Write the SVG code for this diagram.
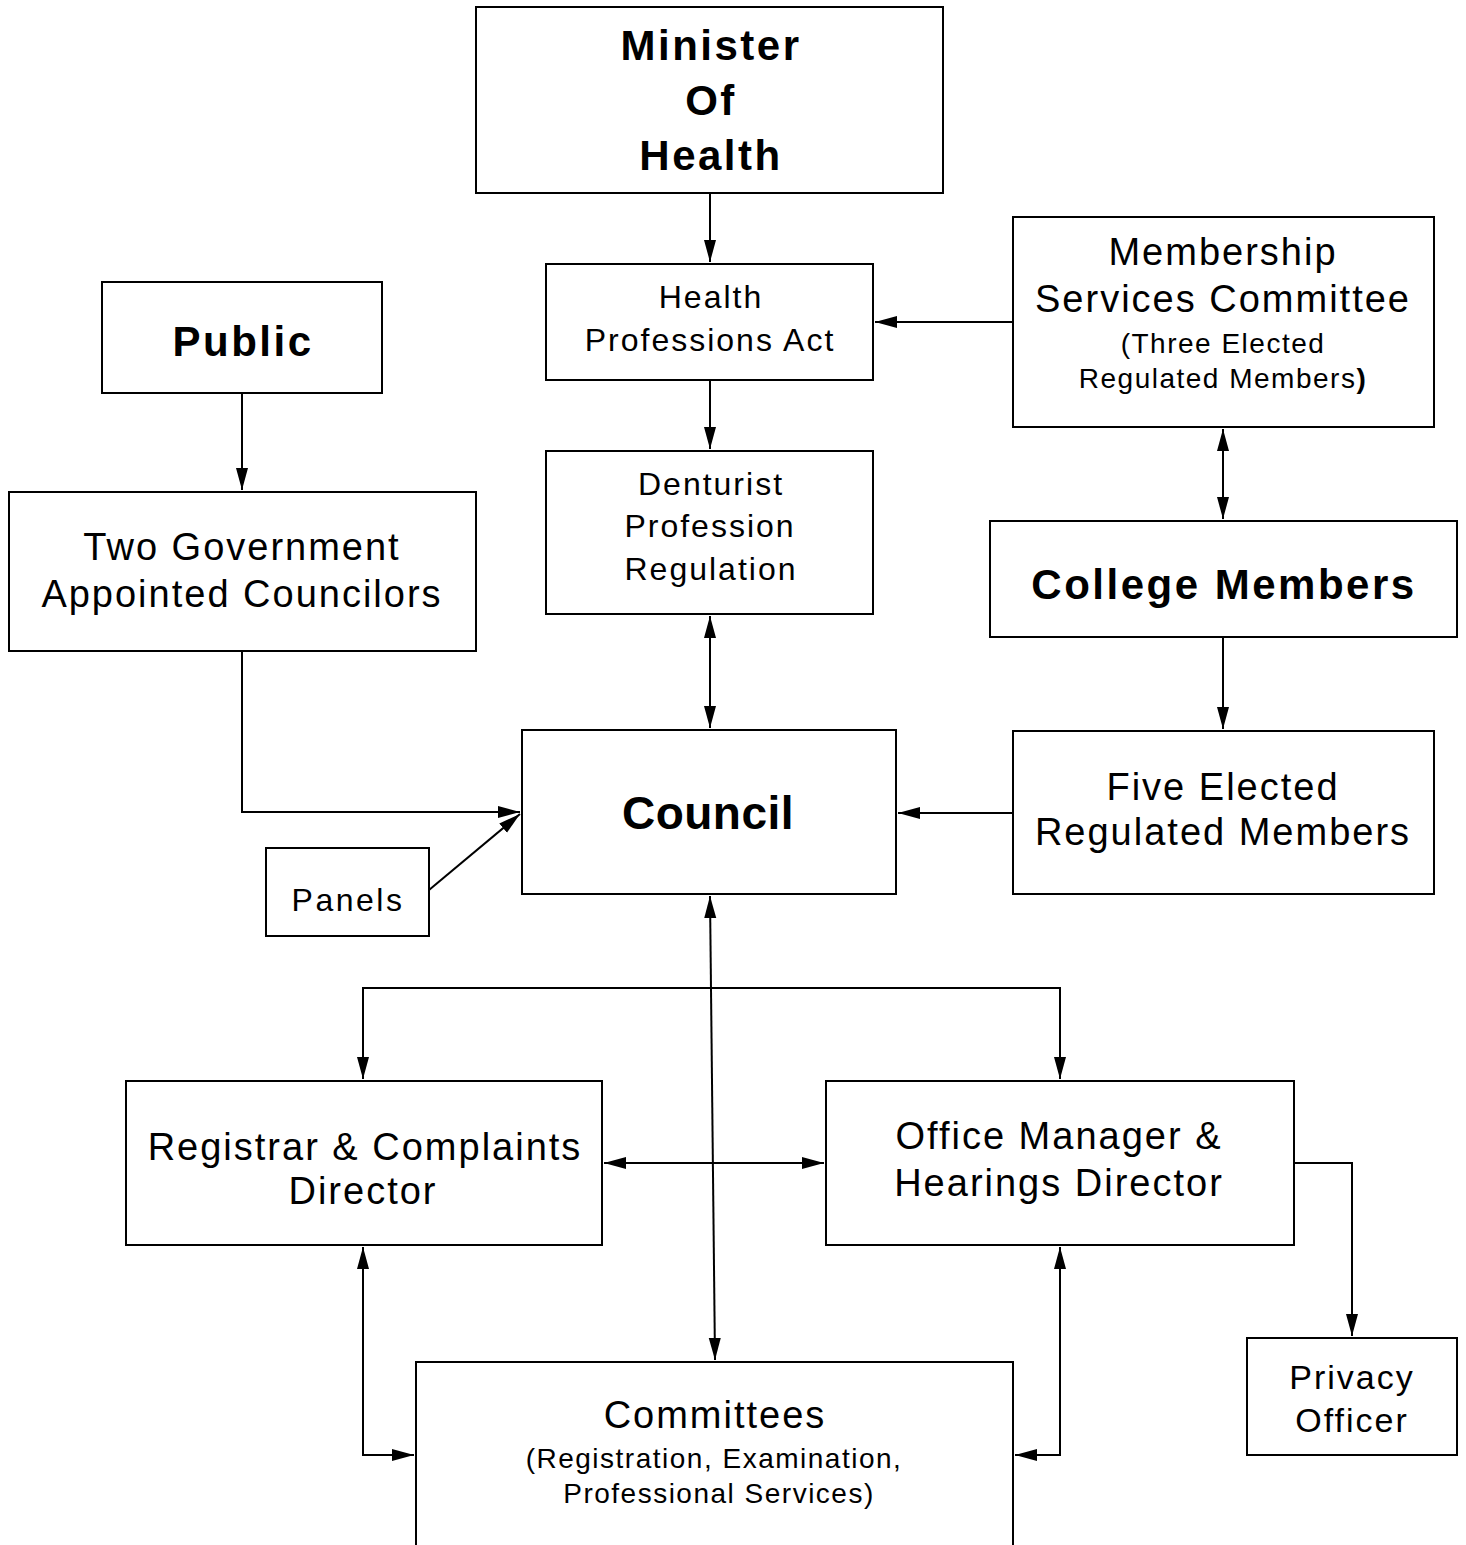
<svg xmlns="http://www.w3.org/2000/svg" width="1466" height="1545" viewBox="0 0 1466 1545">
<style>
.box{fill:#fff;stroke:#000;stroke-width:2}
.t{font-family:"Liberation Sans",Arial,sans-serif;text-anchor:middle;fill:#000;letter-spacing:2px}
.s{letter-spacing:1.5px}
.b{font-weight:bold;letter-spacing:2.5px}
.c{fill:none;stroke:#000;stroke-width:2}
</style>
<defs>
<marker id="ah" markerUnits="userSpaceOnUse" markerWidth="24" markerHeight="14" refX="22" refY="6" orient="auto-start-reverse" viewBox="0 0 24 12">
<path d="M0,0 L22,6 L0,12 Z" fill="#000"/>
</marker>
</defs>
<rect width="1466" height="1545" fill="#fff"/>
<g id="connectors">
<line class="c" x1="710" y1="193" x2="710" y2="262" marker-end="url(#ah)"/>
<line class="c" x1="710" y1="380" x2="710" y2="449" marker-end="url(#ah)"/>
<line class="c" x1="710" y1="616" x2="710" y2="728" marker-start="url(#ah)" marker-end="url(#ah)"/>
<line class="c" x1="1013" y1="322" x2="875" y2="322" marker-end="url(#ah)"/>
<line class="c" x1="1223" y1="429" x2="1223" y2="519" marker-start="url(#ah)" marker-end="url(#ah)"/>
<line class="c" x1="1223" y1="637" x2="1223" y2="729" marker-end="url(#ah)"/>
<line class="c" x1="1013" y1="813" x2="898" y2="813" marker-end="url(#ah)"/>
<line class="c" x1="242" y1="393" x2="242" y2="490" marker-end="url(#ah)"/>
<polyline class="c" points="242,651 242,812 520,812" marker-end="url(#ah)"/>
<line class="c" x1="429" y1="890" x2="520" y2="814" marker-end="url(#ah)"/>
<line class="c" x1="710" y1="896" x2="715" y2="1360" marker-start="url(#ah)" marker-end="url(#ah)"/>
<polyline class="c" points="363,1079 363,988 1060,988 1060,1079" marker-start="url(#ah)" marker-end="url(#ah)"/>
<line class="c" x1="604" y1="1163" x2="824" y2="1163" marker-start="url(#ah)" marker-end="url(#ah)"/>
<polyline class="c" points="363,1247 363,1455 414,1455" marker-start="url(#ah)" marker-end="url(#ah)"/>
<polyline class="c" points="1060,1247 1060,1455 1015,1455" marker-start="url(#ah)" marker-end="url(#ah)"/>
<polyline class="c" points="1294,1163 1352,1163 1352,1336" marker-end="url(#ah)"/>
</g>
<g id="minister">
<rect class="box" x="476" y="7" width="467" height="186"/>
<text class="t b" font-size="42" x="711" y="60">Minister</text>
<text class="t b" font-size="42" x="711" y="115">Of</text>
<text class="t b" font-size="42" x="711" y="170">Health</text>
</g>
<g id="hpa">
<rect class="box" x="546" y="264" width="327" height="116"/>
<text class="t" font-size="32" x="711" y="308">Health</text>
<text class="t" font-size="32" x="710" y="351">Professions Act</text>
</g>
<g id="denturist">
<rect class="box" x="546" y="451" width="327" height="163"/>
<text class="t" font-size="32" x="711" y="495">Denturist</text>
<text class="t" font-size="32" x="710" y="537">Profession</text>
<text class="t" font-size="32" x="711" y="580">Regulation</text>
</g>
<g id="public">
<rect class="box" x="102" y="282" width="280" height="111"/>
<text class="t b" font-size="42" x="243" y="356">Public</text>
</g>
<g id="twogov">
<rect class="box" x="9" y="492" width="467" height="159"/>
<text class="t" font-size="38" x="242" y="560">Two Government</text>
<text class="t" font-size="38" x="242" y="607">Appointed Councilors</text>
</g>
<g id="membership">
<rect class="box" x="1013" y="217" width="421" height="210"/>
<text class="t" font-size="38" x="1223" y="265">Membership</text>
<text class="t" font-size="38" x="1223" y="312">Services Committee</text>
<text class="t s" font-size="28" x="1223" y="353">(Three Elected</text>
<text class="t s" font-size="28" x="1223" y="388">Regulated Members<tspan font-weight="bold">)</tspan></text>
</g>
<g id="college">
<rect class="box" x="990" y="521" width="467" height="116"/>
<text class="t b" font-size="42" x="1224" y="599">College Members</text>
</g>
<g id="five">
<rect class="box" x="1013" y="731" width="421" height="163"/>
<text class="t" font-size="38" x="1223" y="800">Five Elected</text>
<text class="t" font-size="38" x="1223" y="845">Regulated Members</text>
</g>
<g id="council">
<rect class="box" x="522" y="730" width="374" height="164"/>
<text class="t b" font-size="46" x="708" y="829" style="letter-spacing:0.5px">Council</text>
</g>
<g id="panels">
<rect class="box" x="266" y="848" width="163" height="88"/>
<text class="t" font-size="32" x="348" y="911" style="letter-spacing:2.5px">Panels</text>
</g>
<g id="registrar">
<rect class="box" x="126" y="1081" width="476" height="164"/>
<text class="t" font-size="38" x="365" y="1160">Registrar &amp; Complaints</text>
<text class="t" font-size="38" x="363" y="1204">Director</text>
</g>
<g id="office">
<rect class="box" x="826" y="1081" width="468" height="164"/>
<text class="t" font-size="38" x="1059" y="1149">Office Manager &amp;</text>
<text class="t" font-size="38" x="1059" y="1196">Hearings Director</text>
</g>
<g id="privacy">
<rect class="box" x="1247" y="1338" width="210" height="117"/>
<text class="t" font-size="34" x="1352" y="1389">Privacy</text>
<text class="t" font-size="34" x="1352" y="1432">Officer</text>
</g>
<g id="committees">
<rect class="box" x="416" y="1362" width="597" height="200"/>
<text class="t" font-size="38" x="715" y="1428">Committees</text>
<text class="t s" font-size="28" x="714" y="1468">(Registration, Examination,</text>
<text class="t s" font-size="28" x="719" y="1503">Professional Services)</text>
</g>
</svg>
